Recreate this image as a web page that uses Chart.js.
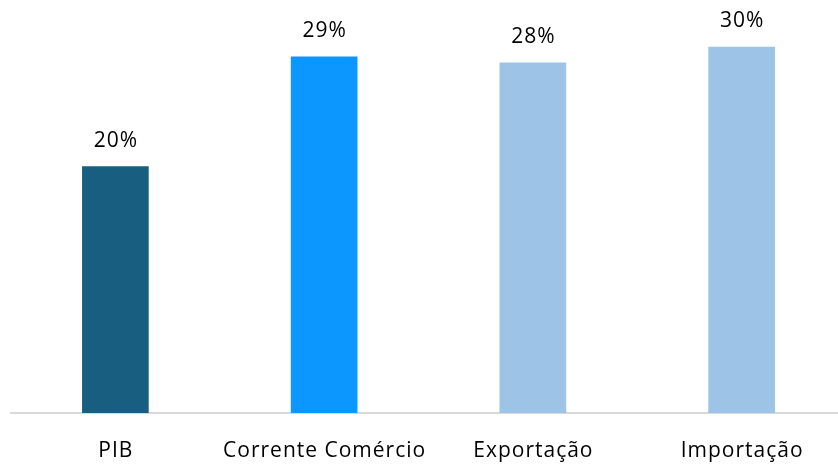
<!DOCTYPE html>
<html>
<head>
<meta charset="utf-8">
<script src="https://cdn.jsdelivr.net/npm/chart.js@4"></script>
<style>
  html, body { margin: 0; padding: 0; background: #fff; overflow: hidden; }
  #wrap { width: 846px; height: 464px; }
</style>
</head>
<body>
<div id="wrap"><canvas id="chart" width="846" height="464"></canvas></div>
<script>
var categories = ["PIB", "Corrente Comércio", "Exportação", "Importação"];
var values = [20.2, 29.2, 28.7, 30.0];
var valueLabels = ["20%", "29%", "28%", "30%"];
var barColors = ["#175E80", "#0C96FF", "#9DC3E6", "#9DC3E6"];

var FONT = "'Open Sans', sans-serif";

// value labels above bars and category labels under the axis
var labelPlugin = {
  id: "labels",
  afterDatasetsDraw: function (chart) {
    var ctx = chart.ctx;
    var meta = chart.getDatasetMeta(0);
    var xScale = chart.scales.x;
    ctx.save();
    ctx.font = "21px " + FONT;
    ctx.letterSpacing = "1px";
    ctx.fillStyle = "#000";
    ctx.textAlign = "center";
    ctx.textBaseline = "middle";
    meta.data.forEach(function (bar, i) {
      ctx.fillText(valueLabels[i], bar.x + 0.5, bar.y - 26);
    });
    categories.forEach(function (c, i) {
      ctx.fillText(c, xScale.getPixelForValue(i) + 0.5, xScale.top + 38);
    });
    ctx.restore();
  }
};

new Chart(document.getElementById("chart"), {
  type: "bar",
  data: {
    labels: categories,
    datasets: [{
      data: values,
      backgroundColor: barColors,
      barThickness: 66
    }]
  },
  options: {
    responsive: false,
    animation: false,
    layout: { padding: { left: 11, right: 0, top: 0, bottom: 0 } },
    plugins: { legend: { display: false }, tooltip: { enabled: false } },
    scales: {
      x: {
        grid: { display: false, drawTicks: false },
        border: { display: true, color: "#d9d9d9", width: 2 },
        ticks: { display: false },
        afterFit: function (scale) { scale.height = 51; }
      },
      y: {
        display: false,
        min: 0,
        max: 33.85
      }
    }
  },
  plugins: [labelPlugin]
});
</script>
</body>
</html>
